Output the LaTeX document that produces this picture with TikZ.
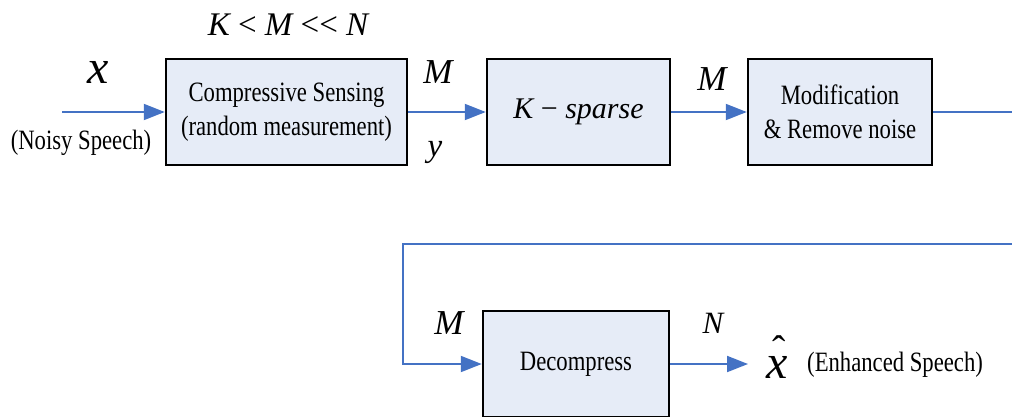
\documentclass[tikz,border=0pt]{standalone}
\usepackage{fontspec}
\setmainfont{Liberation Serif}
\newfontfamily\boxfont[FakeStretch=0.81]{Liberation Serif}
\newfontfamily\varfont{Liberation Serif}
\usetikzlibrary{arrows.meta}
\definecolor{flow}{RGB}{68,114,196}
\definecolor{boxfill}{RGB}{230,236,247}
\tikzset{
  block/.style={draw=black, line width=2.5pt, fill=boxfill, minimum width=#1,
    minimum height=106pt, inner sep=0pt, align=center,
    font=\boxfont\fontsize{28}{34}\selectfont},
  flowline/.style={draw=flow, line width=2pt},
  flowarrow/.style={flowline, -{Triangle[length=21pt,width=16pt]}},
  var/.style={inner sep=0pt, font=\varfont\itshape\fontsize{#1}{#1}\selectfont},
  note/.style={inner sep=0pt, font=\boxfont\fontsize{28}{34}\selectfont},
}
\begin{document}
\begin{tikzpicture}[x=1pt, y=-1pt]
  \useasboundingbox (0,0) rectangle (1012,416);
  \clip (0,0) rectangle (1012,416);

  % processing blocks
  \node[block=241pt] (cs)  at (286.5,112) {Compressive Sensing\\(random measurement)};
  \node[block=183pt, font=\varfont\itshape\fontsize{30}{30}\selectfont] (ks) at (578.5,112) {K {\upshape −} sparse};
  \node[block=184pt] (mod) at (840,112) {Modification\\\& Remove noise};
  \node[block=186pt] (dec) at (576,364) {Decompress};

  % signal path
  \coordinate (in)  at (62,112);
  \coordinate (r1)  at (1040,112);
  \coordinate (r2)  at (1040,244);
  \coordinate (l1)  at (403,244);
  \coordinate (out) at (748,364);

  \draw[flowarrow] (in) -- (cs.west);
  \draw[flowarrow] (cs.east) -- (ks.west);
  \draw[flowarrow] (ks.east) -- (mod.west);
  \draw[flowarrow] (mod.east) -- (r1) -- (r2) -- (l1) |- (dec.west);
  \draw[flowarrow] (dec.east) -- (out);

  % signal labels
  \node[var=48] (x) at (98,72) {x};
  \node[note] (noisy) at (81,143) {(Noisy Speech)};
  \node[var=33] (rel) at (288,25) {K {\upshape <} M {\upshape <<} N};
  \node[var=35] (m1) at (438,72) {M};
  \node[var=33] (y) at (435,152) {y};
  \node[var=35] (m2) at (712,79) {M};
  \node[var=35] (m3) at (449,323) {M};
  \node[var=31] (n) at (713,323) {N};
  % estimated signal with a raised hat
  \node[var=48, anchor=base] (xh) at (777,378)
    {\makebox[0pt][l]{\kern6pt\raisebox{15pt}{\upshape\fontsize{40}{40}\selectfont ˆ}}x};
  \node[note, anchor=west] (enh) at (807,365) {(Enhanced Speech)};
\end{tikzpicture}
\end{document}
